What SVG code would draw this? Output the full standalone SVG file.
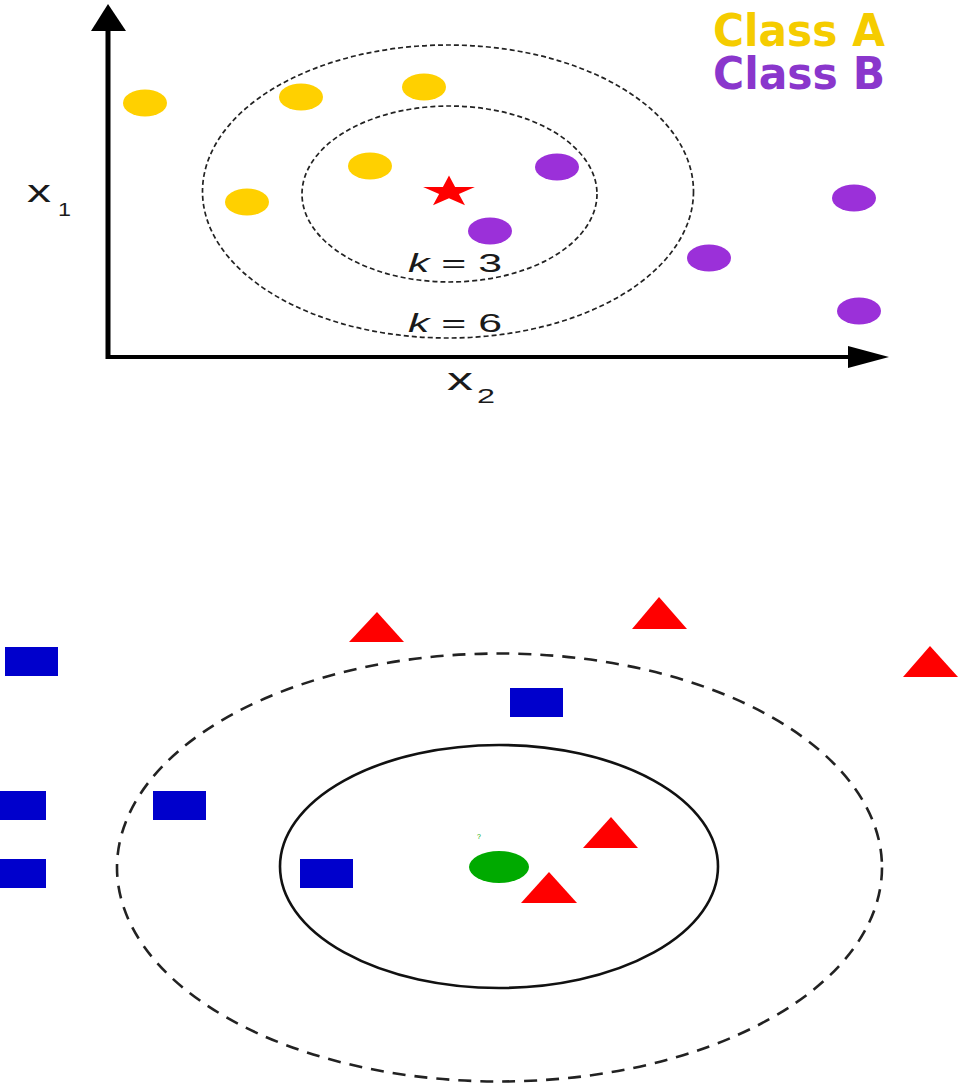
<svg xmlns="http://www.w3.org/2000/svg" width="967" height="1084" viewBox="0 0 967 1084">
<style>
.ya{fill:#FFD000}
.pb{fill:#9B30D9}
.blue{fill:#0000CC}
.red{fill:#FF0000}
.dash1{fill:none;stroke:#222;stroke-width:1.7;stroke-dasharray:5 3}
.dash2{fill:none;stroke:#222;stroke-width:2.6;stroke-dasharray:13 9}
.lbl{font-family:"Liberation Sans",Arial,sans-serif;fill:#1a1a1a}
.cls{font-family:"DejaVu Sans",Verdana,sans-serif;font-weight:bold}
</style>
<rect width="967" height="1084" fill="#fff"/>
<!-- Top chart -->
<g id="axes">
<line x1="108" y1="28" x2="108" y2="359" stroke="#000" stroke-width="5"/>
<polygon points="108,4 91,31 126,31" fill="#000"/>
<line x1="106" y1="357" x2="852" y2="357" stroke="#000" stroke-width="4"/>
<polygon points="889,357 848,346 848,368" fill="#000"/>
</g>
<g id="ellipses-top">
<ellipse class="dash1" cx="448" cy="191.5" rx="245.5" ry="146.5"/>
<ellipse class="dash1" cx="449.5" cy="194" rx="147.5" ry="88"/>
</g>
<g id="class-a-points">
<ellipse class="ya" cx="145" cy="103" rx="22" ry="13.5"/>
<ellipse class="ya" cx="301" cy="97" rx="22" ry="13.5"/>
<ellipse class="ya" cx="424" cy="87" rx="22" ry="13.5"/>
<ellipse class="ya" cx="370" cy="166" rx="22" ry="13.5"/>
<ellipse class="ya" cx="247" cy="202" rx="22" ry="13.5"/>
</g>
<g id="class-b-points">
<ellipse class="pb" cx="557" cy="167" rx="22" ry="13.5"/>
<ellipse class="pb" cx="490" cy="231" rx="22" ry="13.5"/>
<ellipse class="pb" cx="709" cy="258" rx="22" ry="13.5"/>
<ellipse class="pb" cx="854" cy="198" rx="22" ry="13.5"/>
<ellipse class="pb" cx="859" cy="311" rx="22" ry="13.5"/>
</g>
<g id="query-star">
<polygon class="red" transform="translate(449,192) scale(1.65,1)" points="0,-16.5 3.7,-5.1 15.7,-5.1 6,1.95 9.7,13.35 0,6.3 -9.7,13.35 -6,1.95 -15.7,-5.1 -3.7,-5.1"/>
</g>
<g id="labels-top">
<text class="lbl" x="408" y="272" font-size="25" textLength="94" lengthAdjust="spacingAndGlyphs"><tspan font-style="italic">k</tspan> = 3</text>
<text class="lbl" x="408" y="332" font-size="25" textLength="94" lengthAdjust="spacingAndGlyphs"><tspan font-style="italic">k</tspan> = 6</text>
<text class="lbl" x="27" y="202" font-size="32" textLength="24" lengthAdjust="spacingAndGlyphs">x</text>
<text class="lbl" x="58" y="216" font-size="19" textLength="13" lengthAdjust="spacingAndGlyphs">1</text>
<text class="lbl" x="447" y="390" font-size="32" textLength="26" lengthAdjust="spacingAndGlyphs">x</text>
<text class="lbl" x="477" y="403" font-size="21" textLength="18" lengthAdjust="spacingAndGlyphs">2</text>
</g>
<g id="legend">
<text class="cls" x="713" y="46" font-size="44" fill="#F5CC00" textLength="172" lengthAdjust="spacingAndGlyphs">Class A</text>
<text class="cls" x="713" y="89" font-size="44" fill="#8A36CC" textLength="172" lengthAdjust="spacingAndGlyphs">Class B</text>
</g>
<!-- Bottom chart -->
<g id="ellipses-bottom">
<ellipse class="dash2" cx="499.5" cy="867.5" rx="382.5" ry="214"/>
<ellipse fill="none" stroke="#111" stroke-width="2.6" cx="499" cy="866.5" rx="219" ry="121.5"/>
</g>
<g id="squares">
<rect class="blue" x="5" y="647" width="53" height="29"/>
<rect class="blue" x="-7" y="791" width="53" height="29"/>
<rect class="blue" x="-7" y="859" width="53" height="29"/>
<rect class="blue" x="153" y="791" width="53" height="29"/>
<rect class="blue" x="300" y="859" width="53" height="29"/>
<rect class="blue" x="510" y="688" width="53" height="29"/>
</g>
<g id="triangles">
<polygon class="red" points="377,612 349,642 404,642"/>
<polygon class="red" points="659,597 632,629 687,629"/>
<polygon class="red" points="930,646 903,677 958,677"/>
<polygon class="red" points="611,817 583,848 638,848"/>
<polygon class="red" points="549,872 521,903 577,903"/>
</g>
<g id="query-point">
<ellipse fill="#00AA00" cx="499" cy="867" rx="30" ry="16"/>
<text x="477" y="839" font-family="'Liberation Sans',Arial,sans-serif" font-size="7" fill="#00AA00">?</text>
</g>
</svg>
